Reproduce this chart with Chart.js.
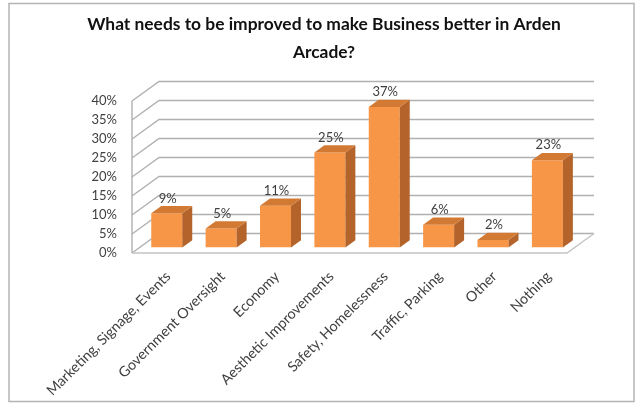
<!DOCTYPE html>
<html lang="en">
<head>
    <meta charset="UTF-8">
    <title>Arden Arcade Business Survey</title>
    <script src="https://cdn.jsdelivr.net/npm/chart.js"></script>
    <style>
        body {
            margin: 0;
            background: #ffffff;
        }
        #chartContainer {
            width: 637px;
            height: 404px;
        }
    </style>
</head>
<body>

<div id="chartContainer">
    <canvas id="myChart"></canvas>
</div>

<script>
    // chart data
    const categories = [
        'Marketing, Signage, Events',
        'Government Oversight',
        'Economy',
        'Aesthetic Improvements',
        'Safety, Homelessness',
        'Traffic, Parking',
        'Other',
        'Nothing'
    ];
    const percentValues = [9, 5, 11, 25, 37, 6, 2, 23];
    const yTickValues = [0, 5, 10, 15, 20, 25, 30, 35, 40];
    const titleLines = ['What needs to be improved to make Business better in Arden', 'Arcade?'];

    // 3d look: depth of the walls and where the bars sit inside that depth
    const depthX = 27, depthY = -19.5;
    const barFront = 0.28, barDepth = 0.37;

    // Plugin that draws the frame, the 3d walls/floor and the bar sides
    const fake3d = {
        id: 'fake3d',
        beforeDraw(chart) {
            const ctx = chart.ctx;
            const area = chart.chartArea;
            const yScale = chart.scales.y;

            ctx.save();
            // outer frame
            ctx.strokeStyle = '#b4b4b4';
            ctx.lineWidth = 1.5;
            ctx.strokeRect(9, 3.5, 625, 398);

            // gridlines on the back wall + left wall
            ctx.strokeStyle = '#b0b0b0';
            ctx.lineWidth = 1.4;
            yTickValues.forEach(v => {
                let y = yScale.getPixelForValue(v);
                ctx.beginPath();
                ctx.moveTo(area.left, y);
                ctx.lineTo(area.left + depthX, y + depthY);
                ctx.lineTo(area.right + depthX, y + depthY);
                ctx.stroke();
            });

            // left wall front edge
            ctx.beginPath();
            ctx.moveTo(area.left, area.top);
            ctx.lineTo(area.left, area.bottom);
            ctx.stroke();

            // floor
            ctx.strokeStyle = '#c4c4c4';
            ctx.beginPath();
            ctx.moveTo(area.left, area.bottom);
            ctx.lineTo(area.right, area.bottom);
            ctx.lineTo(area.right + depthX, area.bottom + depthY);
            ctx.stroke();
            ctx.restore();
        },
        beforeDatasetsDraw(chart) {
            chart.ctx.save();
            chart.ctx.translate(depthX * barFront, depthY * barFront);
        },
        afterDatasetsDraw(chart) {
            const ctx = chart.ctx;
            const meta = chart.getDatasetMeta(0);
            const bx = depthX * barDepth, by = depthY * barDepth;

            meta.data.forEach((bar, i) => {
                let left = bar.x - bar.width / 2;
                let right = bar.x + bar.width / 2;
                let top = bar.y;
                let base = bar.base;

                // side face
                ctx.fillStyle = '#b4642a';
                ctx.beginPath();
                ctx.moveTo(right, top);
                ctx.lineTo(right + bx, top + by);
                ctx.lineTo(right + bx, base + by);
                ctx.lineTo(right, base);
                ctx.closePath();
                ctx.fill();

                // top face
                ctx.fillStyle = '#d27a34';
                ctx.beginPath();
                ctx.moveTo(left, top);
                ctx.lineTo(left + bx, top + by);
                ctx.lineTo(right + bx, top + by);
                ctx.lineTo(right, top);
                ctx.closePath();
                ctx.fill();

                // value label
                ctx.fillStyle = '#404040';
                ctx.font = '13px Lato';
                ctx.textAlign = 'center';
                ctx.textBaseline = 'middle';
                ctx.fillText(percentValues[i] + '%', bar.x + 1, top - 15);
            });
            ctx.restore();
        }
    };

    let ctx = document.getElementById('myChart').getContext('2d');

    window.myChart = new Chart(ctx, {
        type: 'bar',
        data: {
            labels: categories,
            datasets: [{
                data: percentValues,
                backgroundColor: '#f79646',
                borderWidth: 0,
                categoryPercentage: 1,
                barPercentage: 0.57
            }]
        },
        options: {
            responsive: true,
            maintainAspectRatio: false,
            animation: false,
            layout: {
                // left/right padding chosen so the title centres like the original
                padding: { left: 81, right: 70, top: 11, bottom: 4 }
            },
            plugins: {
                legend: { display: false },
                tooltip: { enabled: false },
                title: {
                    display: true,
                    text: titleLines,
                    color: '#111111',
                    font: { family: 'Lato', size: 17.4, weight: 'bold', lineHeight: 1.58 },
                    padding: { top: 0, bottom: 35 }
                }
            },
            scales: {
                x: {
                    grid: { display: false, drawTicks: false },
                    border: { display: false },
                    ticks: {
                        color: '#404040',
                        font: { family: 'Lato', size: 14.3 },
                        minRotation: 45,
                        maxRotation: 45,
                        padding: 15,
                        labelOffset: 9
                    },
                    afterFit(scale) { scale.height = 147; }
                },
                y: {
                    min: 0,
                    max: 40,
                    grid: { display: false, drawTicks: false },
                    border: { display: false },
                    ticks: {
                        stepSize: 5,
                        color: '#404040',
                        font: { family: 'Lato', size: 13 },
                        padding: 15,
                        callback: v => v + '%'
                    },
                    afterFit(scale) { scale.width = 51; }
                }
            }
        },
        plugins: [fake3d]
    });
</script>

</body>
</html>
